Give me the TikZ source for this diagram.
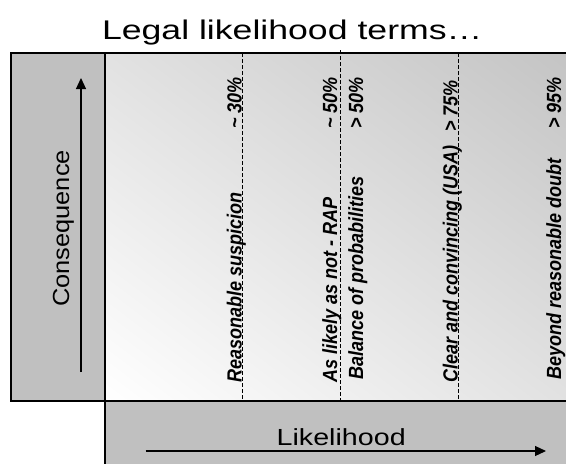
\documentclass[tikz,border=0pt]{standalone}
\usepackage{fontspec}
\setmainfont{Liberation Sans}
\usetikzlibrary{arrows.meta}
\definecolor{panelgray}{HTML}{C0C0C0}
\definecolor{fadegray}{HTML}{C4C4C4}
\begin{document}
\begin{tikzpicture}[x=1pt,y=-1pt,
  frame/.style={draw=black,line width=1.2pt},
  panel/.style={frame,fill=panelgray},
  divider/.style={draw=black,line width=0.9pt,dash pattern=on 3.5pt off 2.5pt},
  axisarrow/.style={line width=1.2pt,-{Triangle[length=11pt,width=10pt]}},
  term/.style={rotate=90,inner sep=0pt,anchor=base west,
    font=\fontsize{20.5}{22}\selectfont\bfseries\itshape},
  level/.style={term,anchor=base east},
  heading/.style={inner sep=0pt,anchor=base,font=\fontsize{27}{30}\selectfont},
  axislabel/.style={inner sep=0pt,anchor=base,font=\fontsize{23.3}{26}\selectfont}]
\useasboundingbox (0,0) rectangle (566,464);

% graded background of the main field
\begin{scope}
  \clip (105,53) rectangle (568,401);
  \shade[left color=white,right color=fadegray,
    transform canvas={shift={(336.5,227)},rotate=53}]
    (-278,-420) rectangle (278,420);
\end{scope}

% frames
\draw[panel] (11,53) rectangle (105,401);
\draw[frame] (105,53) rectangle (568,401);
\draw[panel] (105,401) rectangle (568,466);

% threshold lines
\coordinate (d1t) at (242.5,53);  \coordinate (d1b) at (242.5,401);
\coordinate (d2t) at (340.8,50);  \coordinate (d2b) at (340.8,401);
\coordinate (d3t) at (458.7,53);  \coordinate (d3b) at (458.7,401);
\draw[divider] (d1t) -- (d1b);
\draw[divider] (d2t) -- (d2b);
\draw[divider] (d3t) -- (d3b);

% title
\node[heading] (title) at (292.2,39.3) {\scalebox{1.32}[1]{Legal likelihood terms…}};

% consequence axis
\coordinate (cbot) at (81,372);
\coordinate (ctop) at (81,78);
\draw[axisarrow] (cbot) -- (ctop);
\node[axislabel,rotate=90] (cons) at (69,228.5) {\scalebox{1.09}[1]{Consequence}};

% likelihood axis
\coordinate (lleft) at (145.5,451);
\coordinate (lright) at (546,451);
\draw[axisarrow] (lleft) -- (lright);
\node[axislabel] (like) at (341.2,445) {\scalebox{1.23}[1]{Likelihood}};

% standards of proof and their thresholds
\node[term]  (t1) at (241.5,383) {\scalebox{0.88}[1]{Reasonable suspicion}};
\node[level] (p1) at (241.5,77)  {\scalebox{0.88}[1]{\textasciitilde{} 30\%}};
\node[term]  (t2) at (337,383)   {\scalebox{0.88}[1]{As likely as not - RAP}};
\node[level] (p2) at (337,77)    {\scalebox{0.88}[1]{\textasciitilde{} 50\%}};
\node[term]  (t3) at (363,380)   {\scalebox{0.88}[1]{Balance of probabilities}};
\node[level] (p3) at (363,77)    {\scalebox{0.88}[1]{> 50\%}};
\node[term]  (t4) at (457.5,383) {\scalebox{0.88}[1]{Clear and convincing (USA)}};
\node[level] (p4) at (457.5,80)  {\scalebox{0.88}[1]{> 75\%}};
\node[term]  (t5) at (561,380)   {\scalebox{0.88}[1]{Beyond reasonable doubt}};
\node[level] (p5) at (561,77)    {\scalebox{0.88}[1]{> 95\%}};
\end{tikzpicture}
\end{document}
